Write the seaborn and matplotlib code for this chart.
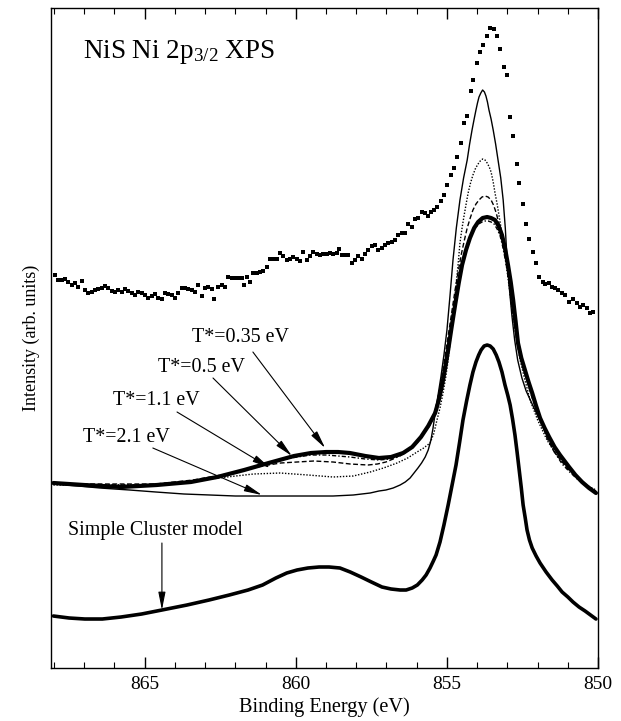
import pandas as pd
import matplotlib
matplotlib.use('Agg')
import matplotlib.pyplot as plt
from matplotlib.ticker import MultipleLocator
import seaborn as sns

# experimental XPS points (binding energy in eV, intensity in arb. units)
exp_energy = [867.97, 867.86, 867.75, 867.64, 867.53, 867.42, 867.31, 867.20, 867.08, 866.98,
              866.87, 866.75, 866.64, 866.54, 866.42, 866.31, 866.20, 866.09, 865.98, 865.87,
              865.76, 865.65, 865.54, 865.43, 865.32, 865.21, 865.10, 864.99, 864.88, 864.77,
              864.66, 864.55, 864.44, 864.33, 864.22, 864.11, 864.00, 863.89, 863.78, 863.67,
              863.56, 863.44, 863.34, 863.23, 863.11, 863.00, 862.90, 862.78, 862.70, 862.56,
              862.45, 862.34, 862.23, 862.12, 862.01, 861.90, 861.79, 861.71, 861.62, 861.52,
              861.41, 861.29, 861.18, 861.08, 860.96, 860.85, 860.74, 860.63, 860.52, 860.41,
              860.30, 860.19, 860.08, 859.97, 859.86, 859.75, 859.64, 859.53, 859.42, 859.31,
              859.20, 859.09, 858.98, 858.87, 858.76, 858.65, 858.56, 858.48, 858.37, 858.26,
              858.13, 858.04, 857.93, 857.82, 857.71, 857.60, 857.49, 857.38, 857.27, 857.16,
              857.05, 856.94, 856.83, 856.72, 856.61, 856.50, 856.39, 856.28, 856.17, 856.06,
              855.95, 855.83, 855.72, 855.64, 855.54, 855.43, 855.32, 855.21, 855.09, 854.99,
              854.87, 854.77, 854.66, 854.54, 854.43, 854.34, 854.21, 854.13, 854.01, 853.90,
              853.80, 853.68, 853.57, 853.46, 853.33, 853.24, 853.11, 853.02, 852.91, 852.80,
              852.69, 852.60, 852.49, 852.38, 852.27, 852.16, 852.05, 851.94, 851.83, 851.75,
              851.64, 851.53, 851.42, 851.31, 851.20, 851.09, 850.95, 850.82, 850.70, 850.60,
              850.49, 850.37, 850.26, 850.16]
exp_intensity = [3.93, 3.88, 3.88, 3.89, 3.86, 3.83, 3.85, 3.81, 3.87, 3.78,
                 3.75, 3.76, 3.78, 3.79, 3.80, 3.82, 3.80, 3.77, 3.76, 3.78,
                 3.76, 3.79, 3.77, 3.75, 3.73, 3.76, 3.75, 3.73, 3.70, 3.72,
                 3.74, 3.70, 3.69, 3.75, 3.74, 3.73, 3.70, 3.75, 3.80, 3.80,
                 3.79, 3.78, 3.76, 3.83, 3.72, 3.80, 3.81, 3.79, 3.69, 3.81,
                 3.83, 3.81, 3.91, 3.90, 3.90, 3.90, 3.90, 3.83, 3.91, 3.86,
                 3.95, 3.95, 3.96, 3.97, 4.01, 4.09, 4.09, 4.09, 4.15, 4.12,
                 4.08, 4.09, 4.11, 4.09, 4.07, 4.16, 4.08, 4.12, 4.16, 4.14,
                 4.13, 4.14, 4.14, 4.15, 4.14, 4.15, 4.19, 4.13, 4.13, 4.13,
                 4.05, 4.08, 4.12, 4.09, 4.14, 4.18, 4.22, 4.23, 4.18, 4.20,
                 4.23, 4.25, 4.26, 4.28, 4.33, 4.35, 4.35, 4.44, 4.41, 4.49,
                 4.50, 4.56, 4.55, 4.52, 4.56, 4.58, 4.61, 4.67, 4.73, 4.83,
                 4.93, 5.00, 5.11, 5.25, 5.45, 5.52, 5.77, 5.88, 6.05, 6.16,
                 6.23, 6.32, 6.40, 6.39, 6.32, 6.19, 6.01, 5.93, 5.51, 5.32,
                 5.04, 4.85, 4.64, 4.44, 4.29, 4.16, 4.05, 3.91, 3.86, 3.84,
                 3.85, 3.81, 3.80, 3.78, 3.75, 3.73, 3.66, 3.69, 3.65, 3.61,
                 3.63, 3.60, 3.55, 3.56]

# cluster model with hopping (bold curve)
thick_energy = [868.02, 867.0, 865.78, 864.6, 863.47, 862.6, 861.71, 860.9, 860.06, 859.5,
                859.00, 858.6, 858.21, 857.7, 857.25, 856.85, 856.45, 856.15, 855.86, 855.62,
                855.39, 855.27, 855.16, 855.06, 854.96, 854.85, 854.73, 854.61, 854.50, 854.37,
                854.24, 854.10, 853.97, 853.82, 853.67, 853.54, 853.41, 853.29, 853.18, 853.08,
                852.98, 852.89, 852.81, 852.73, 852.65, 852.54, 852.42, 852.30, 852.18, 852.05,
                851.92, 851.77, 851.62, 851.44, 851.26, 850.96, 850.75, 850.53, 850.30, 850.07]
thick_intensity = [1.85, 1.83, 1.81, 1.83, 1.86, 1.91, 1.98, 2.05, 2.12, 2.15,
                   2.16, 2.16, 2.15, 2.12, 2.10, 2.11, 2.15, 2.21, 2.31, 2.42,
                   2.55, 2.68, 2.83, 3.00, 3.18, 3.40, 3.63, 3.85, 4.03, 4.18,
                   4.30, 4.40, 4.46, 4.50, 4.51, 4.50, 4.48, 4.42, 4.33, 4.20,
                   4.03, 3.86, 3.68, 3.47, 3.25, 3.10, 2.98, 2.86, 2.75, 2.62,
                   2.50, 2.40, 2.31, 2.21, 2.13, 2.01, 1.93, 1.86, 1.80, 1.75]

# T* = 0.35 eV (dash-dot)
t035_energy = [868.02, 866.5, 864.63, 863.4, 862.28, 861.7, 861.12, 860.5, 859.96, 859.5,
               859.00, 858.6, 858.21, 857.7, 857.25, 856.9, 856.55, 856.25, 855.96, 855.72,
               855.49, 855.36, 855.23, 855.11, 855.00, 854.88, 854.77, 854.65, 854.53, 854.41,
               854.30, 854.18, 854.07, 853.95, 853.84, 853.74, 853.64, 853.54, 853.44, 853.34,
               853.24, 853.16, 853.08, 852.99, 852.91, 852.83, 852.75, 852.65, 852.55, 852.40,
               852.25, 852.08, 851.92, 851.75, 851.59, 851.40, 851.19, 850.94, 850.69, 850.38, 850.07]
t035_intensity = [1.84, 1.83, 1.83, 1.87, 1.93, 1.98, 2.04, 2.08, 2.11, 2.13,
                  2.13, 2.12, 2.11, 2.09, 2.08, 2.09, 2.12, 2.18, 2.26, 2.36,
                  2.48, 2.61, 2.76, 2.96, 3.18, 3.41, 3.63, 3.82, 3.98, 4.13,
                  4.25, 4.34, 4.40, 4.44, 4.46, 4.47, 4.47, 4.46, 4.44, 4.39,
                  4.32, 4.22, 4.10, 3.95, 3.78, 3.61, 3.43, 3.27, 3.13, 2.95,
                  2.78, 2.63, 2.50, 2.37, 2.25, 2.14, 2.04, 1.96, 1.89, 1.82, 1.76]

# T* = 0.5 eV (dashed)
t05_energy = [868.02, 866.5, 864.63, 863.4, 862.28, 861.7, 861.12, 860.5, 859.96, 859.4,
              858.77, 858.2, 857.61, 857.3, 857.02, 856.7, 856.39, 856.14, 855.89, 855.72,
              855.56, 855.44, 855.33, 855.23, 855.13, 855.03, 854.93, 854.83, 854.73, 854.63,
              854.53, 854.43, 854.33, 854.23, 854.14, 854.04, 853.94, 853.84, 853.74, 853.64,
              853.54, 853.46, 853.38, 853.30, 853.21, 853.12, 853.04, 852.96, 852.88, 852.80,
              852.71, 852.60, 852.48, 852.33, 852.18, 852.00, 851.85, 851.69, 851.45, 851.16,
              850.90, 850.60, 850.33, 850.07]
t05_intensity = [1.84, 1.84, 1.84, 1.88, 1.94, 1.98, 2.02, 2.05, 2.06, 2.07,
                 2.06, 2.04, 2.03, 2.04, 2.06, 2.10, 2.16, 2.22, 2.30, 2.36,
                 2.43, 2.53, 2.65, 2.80, 2.98, 3.18, 3.38, 3.58, 3.78, 3.96,
                 4.13, 4.27, 4.40, 4.50, 4.58, 4.64, 4.68, 4.71, 4.72, 4.71,
                 4.68, 4.63, 4.56, 4.47, 4.36, 4.22, 4.06, 3.88, 3.68, 3.50,
                 3.33, 3.16, 3.00, 2.85, 2.70, 2.56, 2.44, 2.30, 2.16, 2.05,
                 1.96, 1.88, 1.82, 1.77]

# T* = 1.1 eV (dotted)
t11_energy = [868.02, 866.5, 864.63, 863.4, 862.28, 861.4, 860.52, 859.6, 858.77, 858.1,
              857.54, 857.1, 856.65, 856.3, 855.99, 855.77, 855.56, 855.44, 855.33, 855.23,
              855.13, 855.04, 854.96, 854.90, 854.83, 854.77, 854.70, 854.63, 854.57, 854.50,
              854.43, 854.36, 854.30, 854.22, 854.14, 854.05, 853.97, 853.90, 853.82, 853.74,
              853.67, 853.60, 853.54, 853.47, 853.41, 853.34, 853.28, 853.21, 853.14, 853.06,
              852.98, 852.91, 852.85, 852.72, 852.58, 852.42, 852.25, 852.00, 851.69, 851.42,
              851.16, 850.88, 850.60, 850.33, 850.07]
t11_intensity = [1.83, 1.83, 1.83, 1.87, 1.91, 1.94, 1.95, 1.93, 1.91, 1.92,
                 1.96, 2.00, 2.05, 2.10, 2.16, 2.20, 2.25, 2.34, 2.48, 2.60,
                 2.75, 2.91, 3.08, 3.24, 3.41, 3.62, 3.83, 4.04, 4.25, 4.40,
                 4.53, 4.65, 4.75, 4.85, 4.93, 5.00, 5.04, 5.07, 5.09, 5.08,
                 5.05, 5.01, 4.96, 4.86, 4.75, 4.64, 4.53, 4.40, 4.25, 4.08,
                 3.90, 3.74, 3.58, 3.33, 3.08, 2.88, 2.68, 2.48, 2.28, 2.15,
                 2.05, 1.96, 1.88, 1.82, 1.78]

# T* = 2.1 eV (thin solid)
t21_energy = [868.02, 867.2, 866.48, 865.5, 864.63, 863.7, 862.84, 862.0, 861.12, 860.0,
              858.77, 858.1, 857.54, 857.25, 857.02, 856.78, 856.55, 856.38, 856.22, 856.09,
              855.96, 855.84, 855.72, 855.62, 855.53, 855.46, 855.39, 855.30, 855.20, 855.10,
              855.00, 854.90, 854.80, 854.69, 854.57, 854.45, 854.33, 854.25, 854.17, 854.10,
              854.04, 853.99, 853.94, 853.88, 853.82, 853.76, 853.71, 853.66, 853.61, 853.54,
              853.47, 853.39, 853.31, 853.22, 853.14, 853.07, 853.01, 852.93, 852.85, 852.76,
              852.66, 852.52, 852.38, 852.15, 851.90, 851.60, 851.26, 850.96, 850.53, 850.07]
t21_intensity = [1.84, 1.82, 1.80, 1.78, 1.76, 1.74, 1.73, 1.72, 1.72, 1.72,
                 1.72, 1.73, 1.75, 1.77, 1.78, 1.80, 1.83, 1.86, 1.90, 1.95,
                 2.00, 2.05, 2.11, 2.18, 2.28, 2.40, 2.55, 2.72, 2.91, 3.13,
                 3.38, 3.72, 4.08, 4.40, 4.68, 4.90, 5.08, 5.24, 5.38, 5.49,
                 5.58, 5.65, 5.71, 5.75, 5.78, 5.76, 5.72, 5.66, 5.58, 5.49,
                 5.38, 5.24, 5.08, 4.90, 4.68, 4.40, 4.08, 3.78, 3.52, 3.28,
                 3.08, 2.90, 2.77, 2.62, 2.46, 2.28, 2.11, 1.99, 1.86, 1.76]

# simple cluster model
cluster_energy = [868.02, 867.5, 866.98, 866.4, 865.78, 865.1, 864.43, 863.6, 862.87, 862.2,
                  861.58, 861.1, 860.66, 860.3, 859.96, 859.6, 859.23, 858.9, 858.54, 858.2,
                  857.84, 857.5, 857.15, 856.85, 856.55, 856.35, 856.15, 855.98, 855.82, 855.69,
                  855.56, 855.45, 855.36, 855.23, 855.10, 854.96, 854.83, 854.70, 854.58, 854.47,
                  854.35, 854.24, 854.14, 854.04, 853.95, 853.87, 853.77, 853.67, 853.57, 853.47,
                  853.37, 853.28, 853.18, 853.08, 852.99, 852.91, 852.83, 852.75, 852.68, 852.61,
                  852.54, 852.48, 852.41, 852.35, 852.27, 852.18, 852.05, 851.92, 851.72, 851.52,
                  851.35, 851.19, 851.0, 850.83, 850.63, 850.43, 850.25, 850.07]
cluster_intensity = [0.52, 0.50, 0.49, 0.49, 0.51, 0.54, 0.58, 0.63, 0.68, 0.73,
                     0.78, 0.83, 0.90, 0.95, 0.98, 1.00, 1.01, 1.01, 1.00, 0.96,
                     0.91, 0.86, 0.81, 0.79, 0.78, 0.78, 0.80, 0.83, 0.88, 0.93,
                     1.00, 1.07, 1.13, 1.26, 1.43, 1.63, 1.83, 2.03, 2.26, 2.48,
                     2.67, 2.83, 2.96, 3.06, 3.13, 3.18, 3.22, 3.23, 3.22, 3.19,
                     3.13, 3.06, 2.96, 2.83, 2.73, 2.63, 2.49, 2.33, 2.16, 1.98,
                     1.80, 1.63, 1.50, 1.38, 1.28, 1.20, 1.12, 1.05, 0.96, 0.88,
                     0.82, 0.76, 0.71, 0.66, 0.61, 0.57, 0.53, 0.49]

sns.set_theme(style='white')
plt.rcParams['font.family'] = ['Liberation Serif', 'DejaVu Serif']
plt.rcParams['mathtext.fontset'] = 'custom'
plt.rcParams['mathtext.rm'] = 'Liberation Serif'
plt.rcParams['mathtext.it'] = 'Liberation Serif:italic'
plt.rcParams['text.color'] = 'black'
plt.rcParams['axes.labelcolor'] = 'black'

fig = plt.figure(figsize=(6.21, 7.21), dpi=100)
ax = fig.add_axes([0.0821, 0.0735, 0.881, 0.9154])

exp = pd.DataFrame({'E': exp_energy, 'I': exp_intensity})
sns.scatterplot(data=exp, x='E', y='I', ax=ax, marker='s', s=10, color='black',
                linewidth=0, legend=False)

curves = [
    (t21_energy, t21_intensity, 1.0, '-'),
    (t11_energy, t11_intensity, 1.0, (0, (1, 1.2))),
    (t05_energy, t05_intensity, 1.0, (0, (3.5, 1.8))),
    (t035_energy, t035_intensity, 1.0, (0, (3, 1.5, 1, 1.5))),
    (thick_energy, thick_intensity, 3.0, '-'),
    (cluster_energy, cluster_intensity, 2.6, '-'),
]
for e, i, lw, ls in curves:
    df = pd.DataFrame({'E': e, 'I': i})
    sns.lineplot(data=df, x='E', y='I', ax=ax, sort=False, color='black',
                 linewidth=lw, linestyle=ls)

# labels with arrows
arrow = dict(arrowstyle='-|>,head_length=0.9,head_width=0.18', lw=0.8, color='black',
             shrinkA=0, shrinkB=0)
labels = [
    ('T*=0.35 eV', (863.43, 3.31), (861.42, 3.16), (859.03, 2.20)),
    ('T*=0.5 eV', (864.56, 3.01), (862.74, 2.90), (860.13, 2.12)),
    ('T*=1.1 eV', (866.05, 2.68), (863.93, 2.56), (860.85, 2.00)),
    ('T*=2.1 eV', (867.04, 2.31), (864.73, 2.20), (861.12, 1.73)),
    ('Simple Cluster model', (867.54, 1.38), (864.43, 1.25), (864.43, 0.58)),
]
for txt, pos, start, end in labels:
    ax.text(pos[0], pos[1], txt, fontsize=14.4, ha='left', va='center', color='black')
    ax.annotate('', xy=end, xytext=start, arrowprops=arrow)

ax.text(867.04, 6.16, r'NiS Ni 2p$_{\mathrm{3/2}}$ XPS', fontsize=19.5, ha='left',
        va='center', color='black')

ax.set_xlim(868.1, 850)
ax.set_ylim(0, 6.6)
ax.xaxis.set_major_locator(MultipleLocator(5))
ax.xaxis.set_minor_locator(MultipleLocator(1))
ax.tick_params(axis='x', which='major', direction='in', length=8, width=1,
               top=True, bottom=True, labelsize=14, pad=6, colors='black')
ax.tick_params(axis='x', which='minor', direction='in', length=4, width=0.8,
               top=True, bottom=True, colors='black')
ax.set_yticks([])
for sp in ax.spines.values():
    sp.set_color('black')
    sp.set_linewidth(1.0)

ax.set_xlabel('Binding Energy (eV)', fontsize=14.6, labelpad=3)
ax.set_ylabel('Intensity (arb. units)', fontsize=13, labelpad=8)

fig.savefig('out.png', dpi=100)
